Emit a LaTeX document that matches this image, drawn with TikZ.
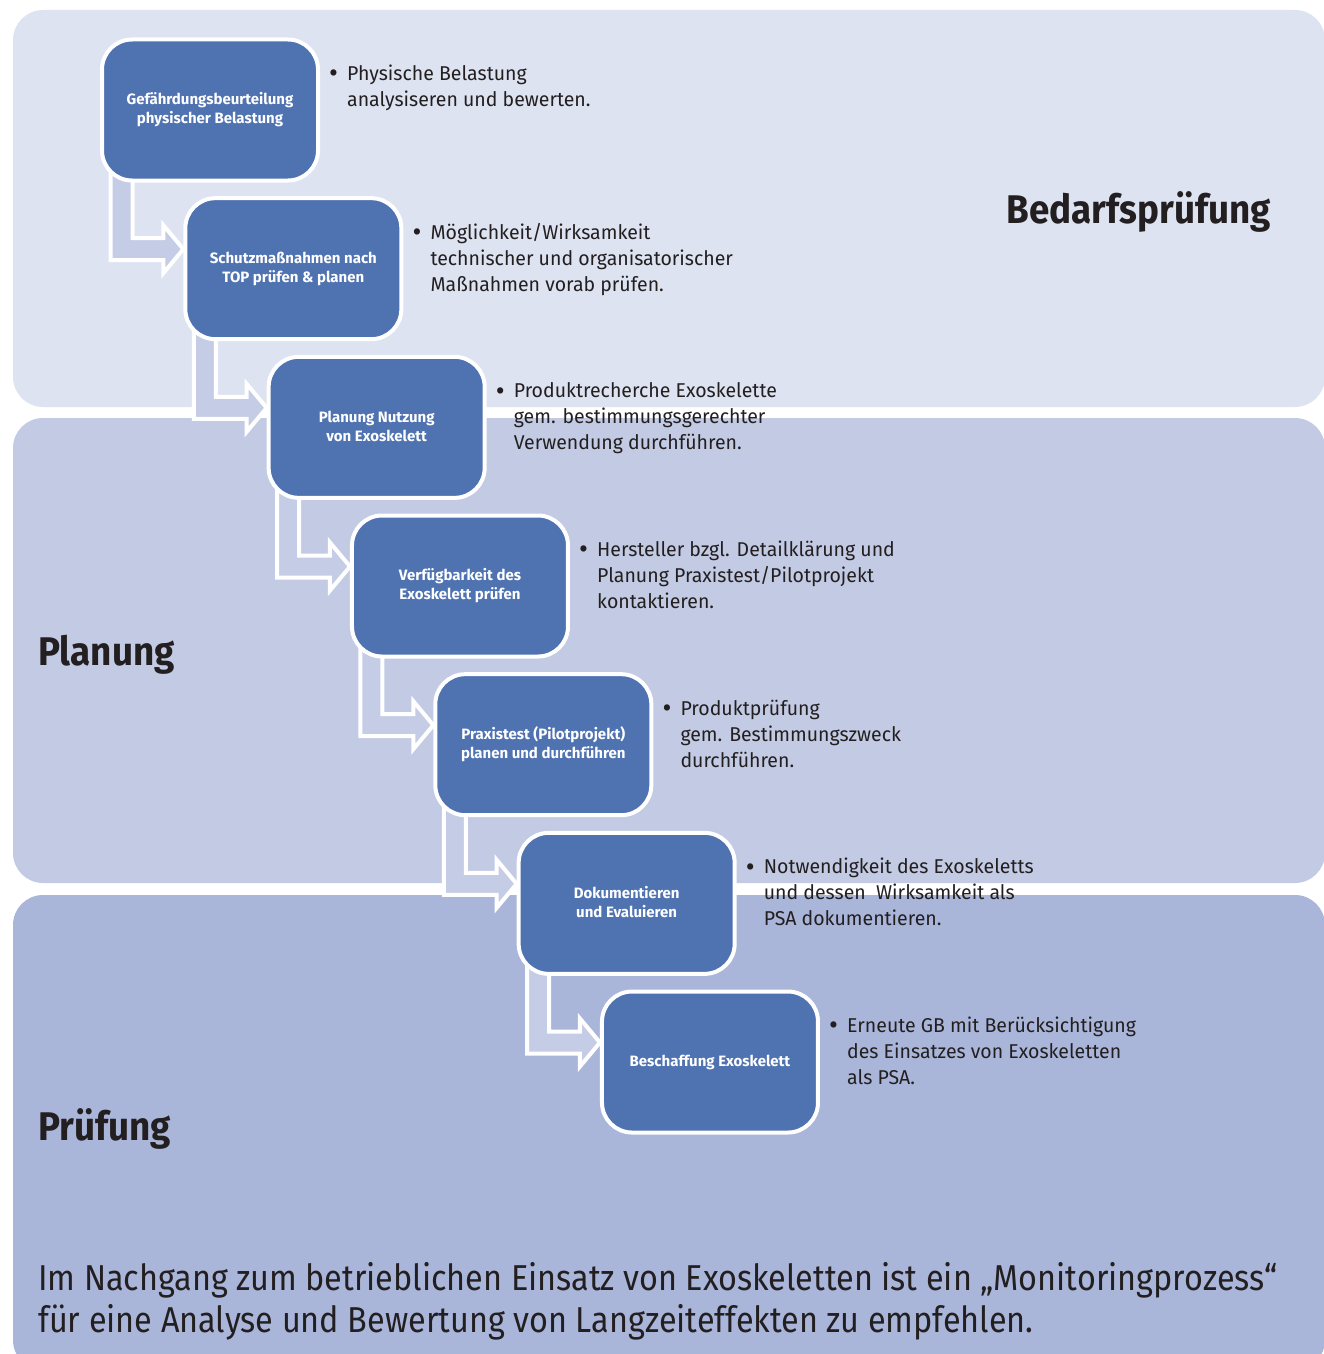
\documentclass[tikz,border=0pt]{standalone}
\usepackage{fontspec}
\setmainfont{Fira Sans}
\newfontfamily\footfont[FakeStretch=0.9]{Fira Sans}
\newfontfamily\notefont[FakeStretch=0.975]{Fira Sans}
\newfontfamily\phasefont[FakeStretch=0.92]{Fira Sans}
\usetikzlibrary{calc,positioning}
\definecolor{bandtop}{RGB}{221,227,241}
\definecolor{bandmid}{RGB}{195,203,228}
\definecolor{bandlow}{RGB}{169,182,218}
\definecolor{boxblue}{RGB}{79,114,177}
\definecolor{flowblue}{RGB}{197,204,229}
\definecolor{ink}{RGB}{35,31,32}
\pgfdeclarelayer{back}
\pgfdeclarelayer{flows}
\pgfsetlayers{back,flows,main}
\newcommand{\bulletnote}[1]{\makebox[17pt][l]{\hspace{-1pt}\raisebox{-2.4pt}{\scalebox{1.4}{\textbullet}}}\begin{tabular}[t]{@{}l@{}}#1\end{tabular}}
\tikzset{
 stepbox/.style={draw=white,line width=4pt,fill=boxblue,rounded corners=30pt,
  minimum width=216pt,minimum height=141pt,inner sep=0pt,align=center,
  text=white,font=\fontsize{15}{19}\selectfont\bfseries},
 flow/.style={draw=white,line width=4pt,fill=flowblue,line join=miter},
 band/.style={rounded corners=30pt},
 note/.style={anchor=base west,inner sep=0pt,text=ink,font=\notefont\fontsize{20}{26}\selectfont},
 phase/.style={inner sep=0pt,text=ink,font=\phasefont\fontsize{40}{48}\selectfont\bfseries}
}
\begin{document}
\begin{tikzpicture}[x=1pt,y=-1pt]
\useasboundingbox (0,0) rectangle (1324,1354);
% phases
\begin{pgfonlayer}{back}
 \clip (0,0) rectangle (1324,1354);
 \fill[bandtop,band] (13,10) rectangle (1325,407);
 \fill[bandmid,band] (13,418) rectangle (1325,883);
 \fill[bandlow,band] (13,895) rectangle (1325,1370);
\end{pgfonlayer}
\node[phase,anchor=base east] (bedarf) at (1271,223) {Bedarfsprüfung};
\node[phase,anchor=base west] (planung) at (38,665) {Planung};
\node[phase,anchor=base west] (pruefung) at (38,1140) {Prüfung};
% steps
\foreach \t [count=\i] in {Gefährdungsbeurteilung\\physischer Belastung,
  Schutzmaßnahmen nach\\TOP prüfen \& planen,
  Planung Nutzung\\von Exoskelett,
  Verfügbarkeit des\\Exoskelett prüfen,
  Praxistest (Pilotprojekt)\\planen und durchführen,
  Dokumentieren\\und Evaluieren,
  Beschaffung Exoskelett}
 \node[stepbox] (s\i) at ({210+83.33*(\i-1)},{110+158.67*(\i-1)}) {\raisebox{-4pt}[0pt][0pt]{\begin{tabular}{@{}c@{}}\t\end{tabular}}};
% arrows
\begin{pgfonlayer}{flows}
\foreach \i [evaluate=\i as \j using int(\i+1)] in {1,...,6}
 \draw[flow] ($(s\i.west)+(10.5,0)$) |- ($(s\j.west)+(-20,-8.5)$) -- ++(0,13)
  -- ($(s\j.west)+(0,-19.5)$) -- ++(-20,-24) -- ++(0,13) -| ($(s\i.west)+(32.5,0)$) -- cycle;
\end{pgfonlayer}
% notes
\node[note] (n1) at ($(s1.north east)+(10,43)$) {\bulletnote{Physische Belastung\\analysiseren und bewerten.}};
\node[note] (n2) at ($(s2.north east)+(10,43)$) {\bulletnote{Möglichkeit/Wirksamkeit\\technischer und organisatorischer\\Maßnahmen vorab prüfen.}};
\node[note] (n3) at ($(s3.north east)+(10,43)$) {\bulletnote{Produktrecherche Exoskelette\\gem. bestimmungsgerechter\\Verwendung durchführen.}};
\node[note] (n4) at ($(s4.north east)+(10,43)$) {\bulletnote{Hersteller bzgl. Detailklärung und\\Planung Praxistest/Pilotprojekt\\kontaktieren.}};
\node[note] (n5) at ($(s5.north east)+(10,43)$) {\bulletnote{Produktprüfung\\gem. Bestimmungszweck\\durchführen.}};
\node[note] (n6) at ($(s6.north east)+(10,43)$) {\bulletnote{Notwendigkeit des Exoskeletts\\und dessen\ \ Wirksamkeit als\\PSA dokumentieren.}};
\node[note] (n7) at ($(s7.north east)+(10,43)$) {\bulletnote{Erneute GB mit Berücksichtigung\\des Einsatzes von Exoskeletten\\als PSA.}};
% footer
\node[anchor=base west,inner sep=0pt,text=ink,align=left,font=\footfont\fontsize{36}{42}\selectfont] (foot) at (38,1332)
 {Im Nachgang zum betrieblichen Einsatz von Exoskeletten ist ein „Monitoringprozess“\\für eine Analyse und Bewertung von Langzeiteffekten zu empfehlen.};
\end{tikzpicture}
\end{document}
